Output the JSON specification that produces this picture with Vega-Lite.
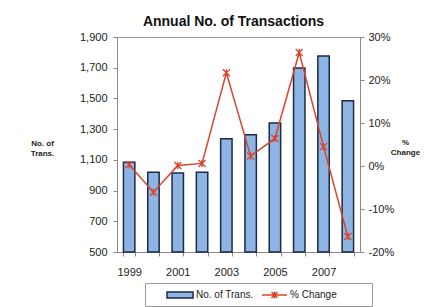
{
  "$schema": "https://vega.github.io/schema/vega-lite/v6.json",
  "width": 243,
  "height": 215,
  "autosize": {"type": "none"},
  "padding": {"left": 117, "top": 37, "right": 78, "bottom": 55},
  "background": "white",
  "title": {"text": "Annual No. of Transactions", "fontSize": 14, "font": "Liberation Sans", "fontWeight": "bold", "color": "#111", "offset": 2, "dx": -5},
  "config": {
    "font": "Liberation Sans",
    "view": {"stroke": "#9a9a9a", "strokeWidth": 1},
    "axis": {"labelFont": "Liberation Sans", "labelFontSize": 11, "labelColor": "#222", "domainColor": "#8a8a8a", "tickColor": "#8a8a8a", "grid": false, "tickSize": 4, "titleFont": "Liberation Sans", "titleColor": "#222"}
  },
  "data": {"values": [
    {"year": 1999, "trans": 1085, "pct": 0.003},
    {"year": 2000, "trans": 1019, "pct": -0.061},
    {"year": 2001, "trans": 1014, "pct": 0.001},
    {"year": 2002, "trans": 1019, "pct": 0.006},
    {"year": 2003, "trans": 1238, "pct": 0.217},
    {"year": 2004, "trans": 1264, "pct": 0.023},
    {"year": 2005, "trans": 1340, "pct": 0.064},
    {"year": 2006, "trans": 1698, "pct": 0.264},
    {"year": 2007, "trans": 1776, "pct": 0.045},
    {"year": 2008, "trans": 1485, "pct": -0.164}
  ]},
  "encoding": {
    "x": {"field": "year", "type": "ordinal",
      "scale": {"paddingInner": 0.53, "paddingOuter": 0.265},
      "axis": {"title": null, "labelAngle": 0, "tickBand": "extent", "labelExpr": "datum.value % 2 == 1 ? datum.value : ''", "labelPadding": 10, "labelFontSize": 11}}
  },
  "layer": [
    {
      "mark": {"type": "bar", "stroke": "#1B2A47", "strokeWidth": 1.5},
      "encoding": {
        "y": {"field": "trans", "type": "quantitative",
          "scale": {"domain": [500, 1900], "nice": false, "zero": false},
          "axis": {"values": [500, 700, 900, 1100, 1300, 1500, 1700, 1900], "format": ",.0f", "title": ["No. of", "Trans."], "titleAngle": 0, "titleX": -75, "titleY": 106, "titleFontSize": 8, "titleFontWeight": "bold", "titleAlign": "center", "titleBaseline": "middle", "labelPadding": 6}},
        "y2": {"datum": 500},
        "fill": {"datum": "No. of Trans.", "type": "nominal",
          "scale": {"domain": ["No. of Trans."], "range": ["#8DB4E2"]},
          "legend": {
            "orient": "none", "legendX": 28, "legendY": 246, "title": null,
            "strokeColor": "#999", "padding": 5,
            "labelLimit": 400,
            "symbolType": "M1.67,-0.5H6V0.5H1.67ZM34.5,0", "symbolSize": 144, "symbolStrokeColor": "#1B2A47", "symbolStrokeWidth": 1.5,
            "labelFontSize": 10, "labelFont": "Liberation Sans", "labelColor": "#222", "labelOffset": 32}}
      }
    },
    {
      "mark": {"type": "line", "strokeWidth": 1.5, "point": {"shape": "M-1,-1L1,1M-1,1L1,-1M0,-1L0,1", "filled": false, "size": 49, "strokeWidth": 1.3}},
      "encoding": {
        "y": {"field": "pct", "type": "quantitative",
          "scale": {"domain": [-0.2, 0.3], "nice": false, "zero": false},
          "axis": {"orient": "right", "values": [-0.2, -0.1, 0, 0.1, 0.2, 0.3], "format": ".0%", "labelExpr": "replace(datum.label, '\u2212', '-')", "title": ["%", "Change"], "titleAngle": 0, "titleX": 45, "titleY": 105, "titleFontSize": 8, "titleFontWeight": "bold", "titleAlign": "center", "titleBaseline": "middle", "labelPadding": 4}},
        "stroke": {"datum": "% Change", "type": "nominal",
          "scale": {"domain": ["% Change"], "range": ["#D9452B"]},
          "legend": {
            "orient": "none", "legendX": 144, "legendY": 251, "title": null,
            "symbolType": "M-1,0H3.17M0.58,-0.5L1.58,0.5M0.58,0.5L1.58,-0.5M1.08,-0.6V0.6", "symbolSize": 144, "symbolStrokeWidth": 1.5, "symbolFillColor": "transparent",
            "labelFontSize": 10, "labelFont": "Liberation Sans", "labelColor": "#222", "labelOffset": 15, "padding": 0}}
      }
    }
  ],
  "resolve": {"scale": {"y": "independent", "fill": "independent", "stroke": "independent"}}
}
